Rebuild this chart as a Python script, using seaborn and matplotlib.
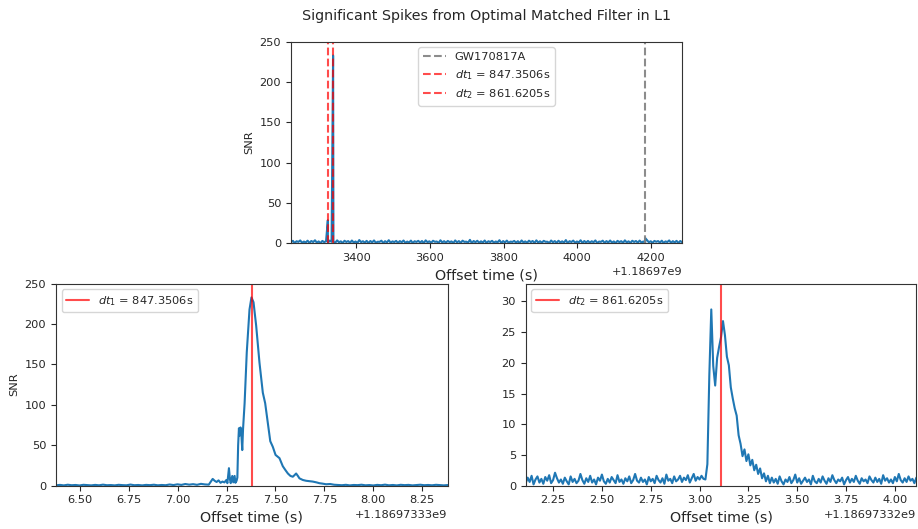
import numpy as np
import pandas as pd
import matplotlib
matplotlib.use("Agg")
import matplotlib.pyplot as plt
import seaborn as sns

# event time and the two offsets quoted in the legends
gw_time = 1186974184.73
dt1 = 847.3506
dt2 = 861.6205
spike1_snr = 233.0
spike2_snr = 28.7
gw_snr = 6.5

# full record, SNR (baseline noise band)
top_base = [
    1.2, 3.1, 0.4, 2.6, 1.8, 3.6, 0.7, 2.2, 1.1, 3.3, 0.5, 2.9, 1.6, 3.8, 0.9, 2.4, 0.3, 3.0, 1.4, 2.7,
    0.6, 3.4, 1.9, 2.1, 0.8, 3.7, 1.3, 2.5, 0.4, 3.2, 1.7, 2.8, 0.6, 3.5, 1.0, 2.3, 0.5, 4.1, 1.5, 2.6,
    0.9, 3.1, 0.3, 2.9, 1.2, 3.6, 0.7, 2.0, 1.8, 3.3, 0.4, 2.7, 1.1, 3.9, 0.8, 2.4, 1.6, 3.0, 0.5, 2.8,
    1.3, 3.5, 0.6, 2.2, 1.0, 3.4, 0.4, 2.6, 1.7, 3.1, 0.9, 2.9, 0.3, 3.7, 1.4, 2.5, 0.7, 3.2, 1.9, 2.3,
    0.5, 3.8, 1.1, 2.7, 0.8, 3.0, 1.5, 2.4, 0.4, 3.6, 1.2, 2.8, 0.6, 3.3, 1.8, 2.1, 0.9, 4.3, 0.3, 2.9,
    1.4, 3.2, 0.7, 2.5, 1.0, 3.5, 0.5, 2.6, 1.6, 3.1, 0.8, 2.3, 1.3, 3.9, 0.4, 2.8, 1.1, 3.4, 0.6, 2.2,
    1.7, 3.0, 0.9, 2.7, 0.3, 3.6, 1.2, 2.4, 0.7, 3.3, 1.5, 2.9, 0.5, 3.7, 1.0, 2.6, 0.8, 3.1, 1.9, 2.0,
    0.4, 3.5, 1.3, 2.8, 0.6, 3.2, 1.1, 2.5, 0.9, 4.0, 0.3, 2.7, 1.6, 3.4, 0.7, 2.3, 1.2, 3.8, 0.5, 2.9,
    1.0, 3.0, 0.8, 2.6, 1.4, 3.6, 0.4, 2.2, 1.8, 3.3, 0.6, 2.8, 1.1, 3.5, 0.9, 2.4, 0.3, 3.1, 1.5, 2.7,
    0.7, 3.7, 1.2, 2.5, 0.5, 3.2, 1.7, 2.9, 0.8, 3.4, 1.0, 2.3, 0.4, 3.9, 1.3, 2.6, 0.6, 3.0, 1.9, 2.8,
    0.9, 3.3, 0.5, 2.4, 1.6, 3.6, 0.7, 2.7, 1.1, 3.1, 0.4, 2.9, 1.4,
]

# (seconds from spike 1, SNR) around the first spike
bl_points = [
    (-1.00, 0.4), (-0.98, 0.9), (-0.96, 0.3), (-0.94, 1.1), (-0.92, 0.5), (-0.90, 0.8),
    (-0.88, 0.2), (-0.86, 1.0), (-0.84, 0.6), (-0.82, 0.3), (-0.80, 0.9), (-0.78, 0.4),
    (-0.76, 1.2), (-0.74, 0.5), (-0.72, 0.7), (-0.70, 0.3), (-0.68, 1.0), (-0.66, 0.6),
    (-0.64, 0.4), (-0.62, 1.3), (-0.60, 0.5), (-0.58, 0.8), (-0.56, 0.3), (-0.54, 0.9),
    (-0.52, 0.6), (-0.50, 1.1), (-0.48, 0.4), (-0.46, 0.8), (-0.44, 0.5), (-0.42, 1.4),
    (-0.40, 0.7), (-0.38, 1.6), (-0.36, 0.9), (-0.34, 2.0), (-0.32, 1.2), (-0.30, 1.8),
    (-0.28, 1.0), (-0.26, 2.2), (-0.24, 1.5), (-0.22, 1.2), (-0.215, 3.0), (-0.20, 8.3),
    (-0.19, 6.0), (-0.18, 4.5), (-0.17, 6.5), (-0.16, 3.5), (-0.15, 5.0), (-0.14, 4.0),
    (-0.13, 7.0), (-0.125, 3.0), (-0.117, 21.6), (-0.112, 8.0), (-0.108, 3.0), (-0.10, 12.0),
    (-0.095, 4.0), (-0.088, 12.0), (-0.084, 3.5), (-0.078, 6.0), (-0.074, 10.0), (-0.070, 50.0),
    (-0.066, 71.0), (-0.062, 62.0), (-0.058, 72.0), (-0.054, 65.0), (-0.049, 44.0), (-0.045, 70.0),
    (-0.037, 102.0), (-0.026, 165.0), (-0.012, 218.0), (-0.002, 233.0), (0.0085, 227.0), (0.022, 198.0),
    (0.039, 152.0), (0.056, 115.0), (0.068, 102.0), (0.082, 77.0), (0.094, 55.0), (0.107, 48.0),
    (0.121, 38.0), (0.141, 34.0), (0.158, 24.0), (0.172, 19.0), (0.184, 15.0), (0.197, 12.0),
    (0.209, 11.0), (0.218, 13.0), (0.226, 15.0), (0.235, 12.0), (0.243, 9.0), (0.26, 7.0),
    (0.277, 6.0), (0.295, 5.5), (0.311, 5.0), (0.33, 4.0), (0.345, 3.0), (0.36, 2.5),
    (0.379, 1.7), (0.40, 2.0), (0.42, 1.1), (0.44, 0.8), (0.46, 0.5), (0.48, 1.0),
    (0.50, 0.3), (0.52, 0.8), (0.54, 0.6), (0.56, 1.1), (0.58, 0.4), (0.60, 0.7),
    (0.62, 0.2), (0.64, 0.9), (0.66, 0.5), (0.68, 1.2), (0.70, 0.4), (0.72, 0.8),
    (0.74, 0.3), (0.76, 1.0), (0.78, 0.6), (0.80, 0.9), (0.82, 0.3), (0.84, 0.7),
    (0.86, 1.1), (0.88, 0.5), (0.90, 0.8), (0.92, 0.4), (0.94, 1.0), (0.96, 0.6),
    (0.98, 0.3), (1.00, 0.7),
]

# SNR every 10 ms over +-1 s around the second spike
br_snr = [
    0.4, 1.3, 0.6, 1.6, 0.2, 1.0, 1.5, 0.5, 1.1, 0.3, 1.4, 0.8, 1.7, 0.4, 0.9, 2.1, 1.2, 0.5, 1.0, 0.3,
    1.3, 0.7, 0.2, 1.5, 0.6, 1.1, 0.4, 0.8, 1.9, 0.9, 0.3, 1.2, 0.6, 1.6, 0.5, 1.0, 0.2, 1.3, 0.8, 1.8,
    0.7, 0.3, 1.1, 0.5, 1.4, 0.9, 0.4, 1.7, 0.6, 1.0, 0.3, 1.2, 0.7, 1.5, 0.4, 0.9, 1.9, 0.8, 0.5, 1.3,
    0.6, 1.0, 0.2, 1.4, 0.7, 1.1, 0.4, 1.6, 0.9, 0.5, 1.2, 0.3, 1.8, 0.8, 1.1, 0.4, 1.5, 0.7, 1.0, 1.6,
    0.6, 1.3, 0.9, 1.7, 0.5, 1.2, 1.9, 0.8, 1.4, 1.0, 1.6, 1.1,
    1.0, 3.5, 18.0, 28.7, 19.5, 16.3, 20.8, 22.6, 24.2, 26.8, 24.5, 21.0, 19.6, 16.0, 14.2, 12.6,
    11.4, 8.2, 6.8, 4.8, 5.9, 4.0, 5.1, 3.3, 4.2, 2.5, 3.4, 1.9, 2.8, 1.2, 2.0, 0.7, 1.6, 0.4, 1.3,
    0.5, 1.1, 0.3, 1.5, 0.7, 0.2, 1.0, 0.6, 1.4, 0.4, 0.9, 1.8, 0.5, 1.2, 0.3, 0.8, 1.3, 0.6, 1.0, 0.2,
    1.6, 0.7, 0.4, 1.1, 0.5, 1.5, 0.8, 0.3, 1.2, 0.6, 1.7, 0.9, 0.4, 1.0, 0.7, 1.3, 0.2, 0.9, 1.4, 0.5,
    1.1, 0.6, 1.6, 0.8, 0.3, 1.2, 0.7, 1.0, 0.4, 1.5, 0.9, 0.5, 1.3, 0.6, 1.1, 0.3, 1.7, 0.8, 1.2, 0.5,
    1.0, 0.4, 1.4, 0.7, 1.9, 0.9, 0.5, 1.2, 0.6, 1.5, 0.8, 1.1, 0.4, 1.3,
]

t1 = gw_time - dt1
t2 = gw_time - dt2
blue = "#1f77b4"
red = "#ff0000"

sns.set_theme(style="ticks", rc={
    "axes.edgecolor": "0.2",
    "axes.linewidth": 0.8,
    "xtick.major.size": 3.5,
    "ytick.major.size": 3.5,
    "xtick.major.width": 0.8,
    "ytick.major.width": 0.8,
    "xtick.labelsize": 8.2,
    "ytick.labelsize": 8.2,
    "axes.labelsize": 8.2,
    "legend.fontsize": 8.2,
    "axes.titlesize": 10.3,
})

fig = plt.figure(figsize=(9.18, 5.29), dpi=100)
ax_top = fig.add_axes([0.317, 0.540, 0.426, 0.381])
ax_l = fig.add_axes([0.061, 0.082, 0.4267, 0.3818])
ax_r = fig.add_axes([0.5727, 0.082, 0.4255, 0.3818])

# top: whole stretch
top = pd.DataFrame({
    "time": np.concatenate([np.linspace(t2 - 100, gw_time + 100, len(top_base)), [t2, t1, gw_time]]),
    "snr": np.concatenate([top_base, [spike2_snr, spike1_snr, gw_snr]]),
})
sns.lineplot(data=top, x="time", y="snr", ax=ax_top, color=blue, linewidth=1.5,
             estimator=None, sort=True)
ax_top.axvline(gw_time, color="#808080", ls="--", lw=1.5, alpha=0.9, label="GW170817A")
ax_top.axvline(t1, color=red, ls="--", lw=1.5, alpha=0.7, label=rf"$dt_1$ = {dt1}s")
ax_top.axvline(t2, color=red, ls="--", lw=1.5, alpha=0.7, label=rf"$dt_2$ = {dt2}s")
ax_top.set_xlim(t2 - 100, gw_time + 100)
ax_top.set_ylim(0, 250)
ax_top.set_xlabel("Offset time (s)", fontsize=10.3)
ax_top.set_ylabel("SNR")
ax_top.set_title("Significant Spikes from Optimal Matched Filter in L1", pad=16)
ax_top.legend(loc="upper center")

# bottom left: zoom on spike 1
left = pd.DataFrame(bl_points, columns=["rel", "snr"])
left["time"] = t1 + left["rel"]
sns.lineplot(data=left, x="time", y="snr", ax=ax_l, color=blue, linewidth=1.5, estimator=None)
ax_l.axvline(t1, color=red, lw=1.5, alpha=0.7, label=rf"$dt_1$ = {dt1}s")
ax_l.set_xlim(t1 - 1, t1 + 1)
ax_l.set_ylim(0, 250)
ax_l.set_xlabel("Offset time (s)", fontsize=10.3)
ax_l.set_ylabel("SNR")
ax_l.legend(loc="upper left")

# bottom right: zoom on spike 2
right = pd.DataFrame({"time": np.linspace(t2 - 1, t2 + 1, len(br_snr)), "snr": br_snr})
sns.lineplot(data=right, x="time", y="snr", ax=ax_r, color=blue, linewidth=1.5, estimator=None)
ax_r.axvline(t2, color=red, lw=1.5, alpha=0.7, label=rf"$dt_2$ = {dt2}s")
ax_r.set_xlim(t2 - 1, t2 + 1)
ax_r.set_ylim(0, 32.9)
ax_r.set_xlabel("Offset time (s)", fontsize=10.3)
ax_r.set_ylabel("")
ax_r.legend(loc="upper left")

fig.savefig("out.png", dpi=100)
